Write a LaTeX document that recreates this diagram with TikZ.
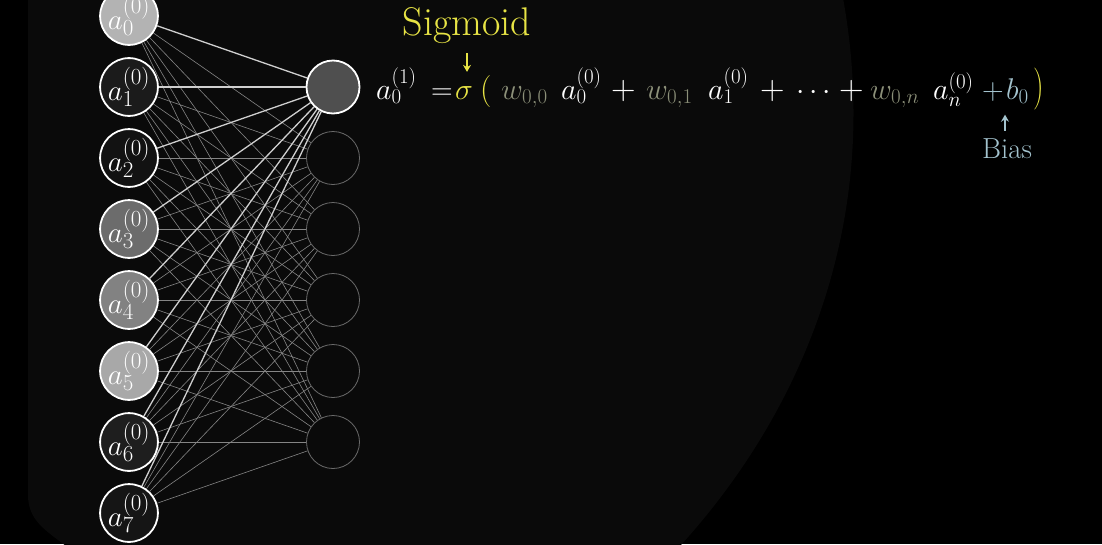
\documentclass[tikz,border=0pt]{standalone}
\usepackage{fix-cm}
\usepackage{graphicx}
\usetikzlibrary{arrows.meta,calc}
\DeclareMathSizes{29}{29}{23}{17}
\definecolor{glow}{HTML}{0A0A0A}
\definecolor{sig}{HTML}{E8E445}
\definecolor{wcol}{HTML}{8C9079}
\definecolor{bcol}{HTML}{A3C3CE}
\definecolor{hidline}{HTML}{6A6A6A}
\definecolor{thinE}{HTML}{858585}
\definecolor{boldE}{HTML}{CFCFCF}
\definecolor{f0}{HTML}{B3B3B3}
\definecolor{f1}{HTML}{1B1B1B}
\definecolor{f2}{HTML}{121212}
\definecolor{f3}{HTML}{6C6C6C}
\definecolor{f4}{HTML}{828282}
\definecolor{f5}{HTML}{A8A8A8}
\definecolor{f6}{HTML}{1E1E1E}
\definecolor{f7}{HTML}{151515}
\definecolor{r0fill}{HTML}{4F4F4F}
\tikzset{
  inp/.style={circle, draw=white, line width=1.8pt, minimum size=53pt, inner sep=0pt,
    text=white, font=\fontsize{29}{31}\selectfont},
  hid/.style={circle, draw=hidline, line width=0.8pt, minimum size=53pt, inner sep=0pt},
  hidact/.style={circle, draw=white, line width=1.8pt, minimum size=53pt, inner sep=0pt, fill=r0fill},
  thinedge/.style={draw=thinE, line width=0.6pt},
  boldedge/.style={draw=boldE, line width=1.3pt},
  eq/.style={anchor=base west, inner sep=0pt, text=white, font=\fontsize{30}{32}\selectfont},
  eqplus/.style={eq, font=\fontsize{34}{36}\selectfont},
  sigarrow/.style={draw=sig, line width=1.5pt, -{Stealth[length=7pt,width=8pt]}},
  biasarrow/.style={draw=bcol, line width=1.5pt, -{Stealth[length=7pt,width=8pt]}}
}
\begin{document}
\begin{tikzpicture}[x=1pt,y=-1pt]
\fill[black] (0,0) rectangle (1102,544);
\useasboundingbox (0,0) rectangle (1102,544);
\clip (0,0) rectangle (1102,544);
\fill[glow] (28,-2) -- (843,-2) .. controls (885,230) and (795,420) .. (680,546) -- (66,546) .. controls (45,530) and (28,520) .. (28,495) -- cycle;

% input layer
\foreach \i in {0,...,7} {
  \node[inp, fill=f\i] (L\i) at (129, 16+71*\i) {$a_{\i}^{(0)}$};
}
% hidden layer
\node[hidact] (R0) at (333,87) {};
\foreach \j in {1,...,5} {
  \node[hid] (R\j) at (333, 87+71*\j) {};
}
% connections
\foreach \i in {0,...,7} {
  \foreach \j in {1,...,5} {
    \draw[thinedge] (L\i) -- (R\j);
  }
}
\foreach \i in {0,...,7} {
  \draw[boldedge] (L\i) -- (R0);
}

% equation
\node[eq] (ea) at (376,99) {$a_0^{(1)}$};
\node[eq] (eeq) at (431,99) {$=$};
\node[eq, text=sig] (esig) at (455,99) {$\sigma$};
\node[eq, text=sig, font=\fontsize{32}{34}\selectfont] (elp) at (480,99) {$($};
\node[eq, text=wcol] (w00) at (501,99) {$w_{0,0}$};
\node[eq] (a00) at (561,99) {$a_0^{(0)}$};
\node[eqplus] (p1) at (611,99) {$+$};
\node[eq, text=wcol] (w01) at (646,99) {$w_{0,1}$};
\node[eq] (a10) at (708,99) {$a_1^{(0)}$};
\node[eqplus] (p2) at (760,99) {$+$};
\node[eq] (edots) at (796,99) {$\cdots$};
\node[eqplus] (p3) at (839,99) {$+$};
\node[eq, text=wcol] (w0n) at (870,99) {$w_{0,n}$};
\node[eq] (an0) at (933,99) {$a_n^{(0)}$};
\node[eq, text=bcol] (p4) at (982,99) {$+$};
\node[eq, text=bcol] (eb0) at (1006,99) {$b_0$};
\node[eq, text=sig] (erp) at (1033,99) {\scalebox{1}[1.4]{$)$}};

% annotations
\node[anchor=base, inner sep=0pt, text=sig, font=\fontsize{40}{43}\selectfont] (sigtxt) at (467,35) {Sigmoid};
\draw[sigarrow] ($(sigtxt.south)+(0,10)$) -- ($(sigtxt.south |- esig.north)+(0,-14)$);
\node[anchor=base, inner sep=0pt, text=bcol, font=\fontsize{29}{31}\selectfont] (bias) at (1007,158) {Bias};
\draw[biasarrow] ($(bias.north)+(-2,-7)$) -- ($(bias.north |- eb0.south)+(-2,11)$);
\end{tikzpicture}
\end{document}
